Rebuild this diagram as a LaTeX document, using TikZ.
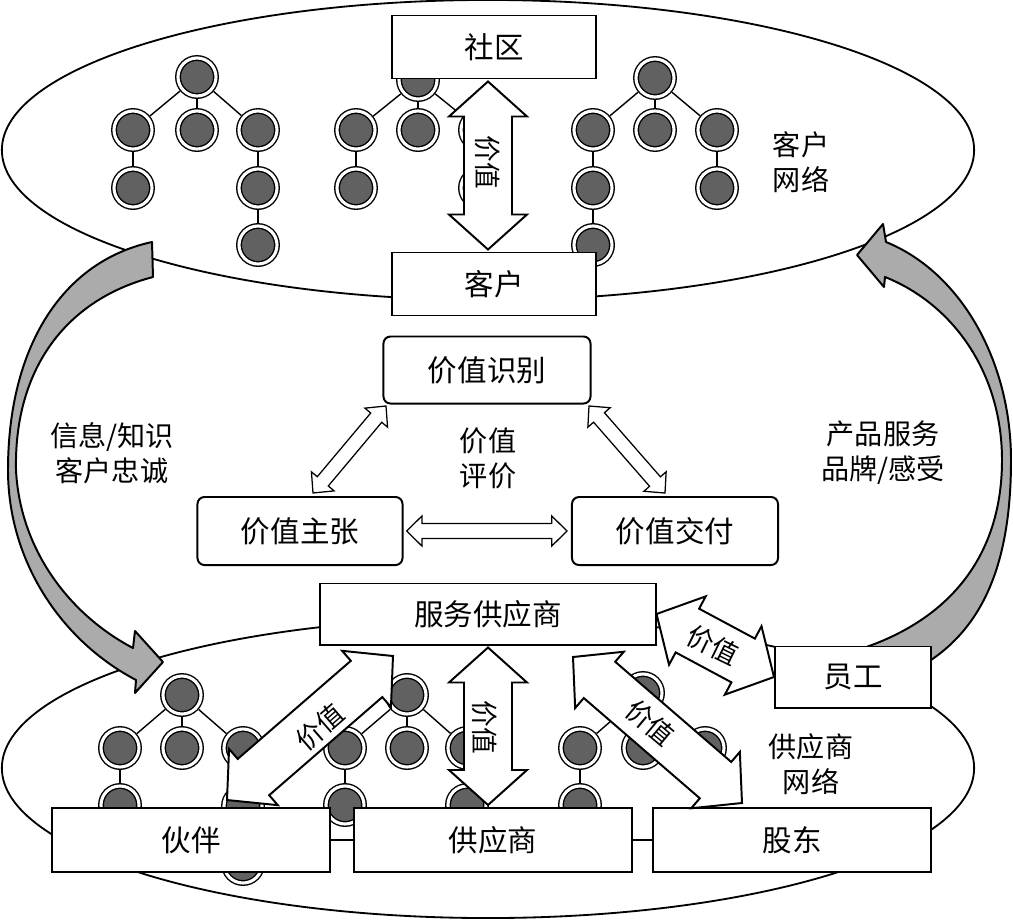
\documentclass[tikz,border=0pt]{standalone}
\usepackage{fontspec}
\setmainfont{Noto Sans CJK SC}
\usetikzlibrary{calc,positioning}

% twin-headed block arrow: style, tail, tip, head length, shaft half width, head half width
\newcommand{\twinarrow}[6]{%
  \draw[#1] (#2)
    -- ($(#2)!#4!(#3)!#6!90:(#3)$)
    -- ($(#2)!#4!(#3)!#5!90:(#3)$)
    -- ($(#3)!#4!(#2)!#5!-90:(#2)$)
    -- ($(#3)!#4!(#2)!#6!-90:(#2)$)
    -- (#3)
    -- ($(#3)!#4!(#2)!#6!90:(#2)$)
    -- ($(#3)!#4!(#2)!#5!90:(#2)$)
    -- ($(#2)!#4!(#3)!#5!-90:(#3)$)
    -- ($(#2)!#4!(#3)!#6!-90:(#3)$)
    -- cycle;}

\begin{document}
\begin{tikzpicture}[x=0.025cm,y=-0.025cm,
  net/.style={draw,line width=1.3pt},
  dot/.style={circle,draw=black,line width=1pt,double=white,double distance=2.2pt,
              fill=black!62,minimum size=0.95cm,inner sep=0pt,outer sep=2.1pt},
  link/.style={line width=1pt},
  box/.style={draw,fill=white,line width=1.4pt,minimum width=5.075cm,minimum height=1.575cm,
              inner sep=0pt,font=\fontsize{21}{25}\selectfont},
  rbox/.style={box,rounded corners=5pt,minimum height=1.7cm},
  wide/.style={box,minimum width=6.95cm,minimum height=1.6cm},
  blk/.style={draw,fill=white,line width=1.4pt},
  slim/.style={draw,fill=white,line width=0.9pt},
  garrow/.style={draw,fill=black!33,line width=1.4pt,line join=round},
  lbl/.style={align=center,font=\fontsize{20}{25}\selectfont},
  vlbl/.style={inner sep=0pt,font=\fontsize{19}{21}\selectfont}]
  \useasboundingbox (0,0) rectangle (1013,922);
  % the two networks
  \draw[net] (488,150) ellipse [x radius=12.15cm,y radius=3.75cm];
  \draw[net] (488,768) ellipse [x radius=12.15cm,y radius=3.75cm];
  % customer trees
  \foreach \n/\x/\y in {ta/197/77,ta1/133/130,ta2/197/130,ta3/258/130,ta4/133/188,ta5/258/188,ta6/258/245,
                        tb/418/80,tb1/356/130,tb2/418/130,tb3/480/130,tb4/356/188,tb5/480/188,
                        tc/655/78,tc1/593/130,tc2/655/130,tc3/717/130,tc4/593/188,tc5/593/245,tc6/717/188}
    \node[dot] (\n) at (\x,\y) {};
  \foreach \s/\t in {ta/ta1,ta/ta2,ta/ta3,ta1/ta4,ta3/ta5,ta5/ta6,
                     tb/tb1,tb/tb2,tb/tb3,tb1/tb4,tb3/tb5,
                     tc/tc1,tc/tc2,tc/tc3,tc1/tc4,tc4/tc5,tc3/tc6}
    \draw[link] (\s) -- (\t);
  % supplier trees
  \foreach \n/\x/\y in {ba/182/695,ba1/120/748,ba2/182/748,ba3/243/748,ba4/120/805,ba5/243/806,ba6/243/864,
                        bb/407/695,bb1/345/748,bb2/407/748,bb3/467/748,bb4/345/805,bb5/467/805,
                        bc/643/693,bc1/580/748,bc2/643/748,bc3/705/748,bc4/580/805}
    \node[dot] (\n) at (\x,\y) {};
  \foreach \s/\t in {ba/ba1,ba/ba2,ba/ba3,ba1/ba4,ba3/ba5,ba5/ba6,
                     bb/bb1,bb/bb2,bb/bb3,bb1/bb4,bb3/bb5,
                     bc/bc1,bc/bc2,bc/bc3,bc1/bc4}
    \draw[link] (\s) -- (\t);
  % feedback loops
  \draw[garrow] (152,242) .. controls (60,262) and (8,350) .. (8,470)
    .. controls (8,560) and (60,640) .. (136,680) -- (135,693) -- (163,662) -- (135,631) -- (133,648)
    .. controls (70,615) and (20,550) .. (16,470) .. controls (14,370) and (65,300) .. (153,277) -- cycle;
  \draw[garrow] (886,242) .. controls (960,272) and (1011,360) .. (1011,460)
    .. controls (1011,560) and (985,625) .. (928,662) -- (840,655)
    .. controls (945,628) and (1002,560) .. (1002,460) .. controls (1002,375) and (955,305) .. (885,277)
    -- (884,287) -- (857,255) -- (883,224) -- cycle;
  % boxes
  \node[box] (comm) at (494,47) {社区};
  \node[box] (cust) at (494,284) {客户};
  \node[rbox,minimum width=5.175cm,minimum height=1.675cm] (vid) at (487,370) {价值识别};
  \node[rbox,minimum width=5.125cm] (vprop) at (300,531) {价值主张};
  \node[rbox,minimum width=5.15cm] (vdel) at (675,531) {价值交付};
  \node[box,minimum width=8.375cm,minimum height=1.525cm] (svc) at (488,614) {服务供应商};
  \node[box,minimum width=3.9cm,minimum height=1.525cm] (emp) at (853,677) {员工};
  \node[wide] (partner) at (191,840) {伙伴};
  \node[wide] (sup) at (493,840) {供应商};
  \node[wide] (holder) at (792,840) {股东};
  \draw[link] (partner) -- (sup);
  \draw[link] (sup) -- (holder);
  % value arrows
  \coordinate (ct) at ([xshift=-0.15cm,yshift=-0.05cm]comm.south);
  \coordinate (cb) at ([yshift=0.05cm]ct |- cust.north);
  \coordinate (st) at ([yshift=-0.05cm]svc.south);
  \coordinate (sb) at ([yshift=0.05cm]st |- sup.north);
  \coordinate (pl) at (227,800);
  \coordinate (pu) at (393,656);
  \coordinate (hu) at (573,657);
  \coordinate (hd) at (742,803);
  \twinarrow{blk}{ct}{cb}{0.875cm}{0.6cm}{0.975cm}
  \twinarrow{blk}{st}{sb}{0.875cm}{0.6cm}{0.975cm}
  \twinarrow{blk}{pl}{pu}{0.875cm}{0.6cm}{0.93cm}
  \twinarrow{blk}{hu}{hd}{0.875cm}{0.6cm}{0.93cm}
  \twinarrow{blk}{svc.east}{emp.west}{0.875cm}{0.62cm}{0.97cm}
  \node[vlbl,rotate=-90] (v1) at (488,162) {价值};
  \node[vlbl,rotate=-90] (v2) at (485,727) {价值};
  \node[vlbl,rotate=41] (v3) at (320,727) {价值};
  \node[vlbl,rotate=-40] (v4) at (650,723) {价值};
  \node[vlbl,rotate=-26] (v5) at (713,645) {价值};
  % value triangle
  \coordinate (ia) at (386,406);
  \coordinate (ib) at (313,493);
  \coordinate (ic) at (589,406);
  \coordinate (id) at (665,493);
  \twinarrow{slim}{ia}{ib}{0.38cm}{0.18cm}{0.37cm}
  \twinarrow{slim}{ic}{id}{0.38cm}{0.18cm}{0.37cm}
  \twinarrow{slim}{[xshift=0.08cm]vprop.east}{[xshift=-0.1cm]vdel.west}{0.38cm}{0.19cm}{0.375cm}
  % labels
  \node[lbl] (cnet) at (801,162) {客户\\网络};
  \node[lbl] (snet) at (811,764) {供应商\\网络};
  \node[lbl] (info) at (112,453) {信息/知识\\客户忠诚};
  \node[lbl] (prod) at (883,453) {产品服务\\品牌/感受};
  \node[lbl] (eval) at (488,458) {价值\\评价};
\end{tikzpicture}
\end{document}
